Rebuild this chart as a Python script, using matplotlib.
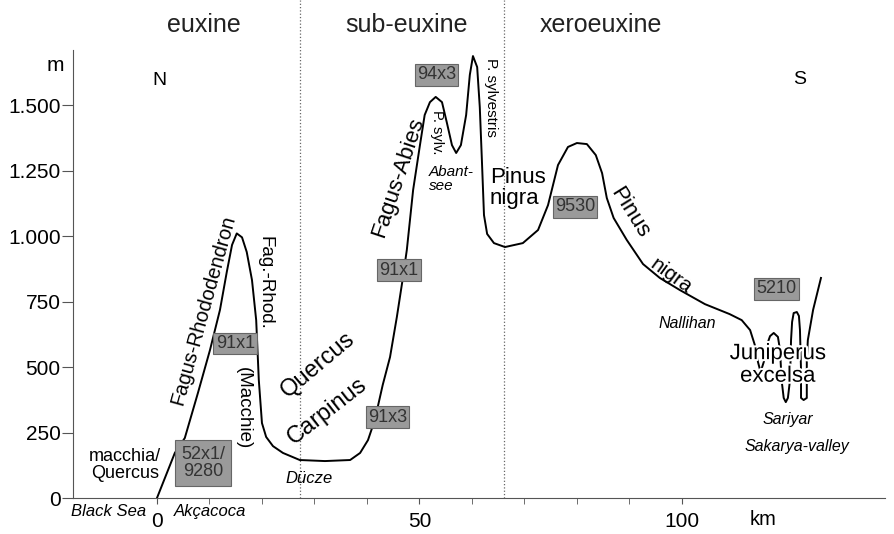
import matplotlib
matplotlib.use("Agg")
import matplotlib.pyplot as plt
import matplotlib.patheffects as pe
from matplotlib.ticker import FuncFormatter

plt.rcParams['font.family'] = ['Liberation Sans', 'DejaVu Sans']

# profile N -> S (km from coast, elevation in m)
dist_km = [0, 3.4, 5.3, 7.8, 10.1, 12.0, 13.3, 14.3, 15.2, 16.2, 17.1, 18.1, 18.9,
           19.4, 20.0, 20.8, 22.1, 24.0, 27.2, 32.0, 36.8, 38.7, 40.2, 41.5, 43.0,
           44.4, 45.7, 46.7, 47.6, 48.8, 50.1, 51.0, 52.0, 53.1, 54.3, 55.2, 56.2,
           57.0, 57.9, 58.9, 59.6, 60.2, 61.0, 61.5, 61.9, 62.3, 62.9, 64.2, 66.3,
           69.7, 72.6, 74.5, 76.4, 78.3, 80.0, 81.9, 83.6, 84.8, 85.7, 87.0, 89.5,
           92.6, 95.8, 99.6, 104.4, 109.1, 111.4, 113.0, 113.9, 114.5, 115.0, 115.6,
           116.2, 116.8, 117.5, 118.3, 118.7, 119.0, 119.4, 119.8, 120.2, 120.6,
           120.8, 121.0, 121.3, 121.9, 122.3, 122.5, 122.7, 122.7, 123.2, 123.8,
           123.8, 124.0, 125.0, 126.5]
elev_m = [0, 172, 229, 401, 565, 718, 863, 966, 1010, 995, 939, 832, 679,
          450, 286, 233, 198, 172, 145, 141, 145, 172, 221, 298, 431,
          538, 691, 821, 947, 1176, 1347, 1462, 1511, 1531, 1511, 1435, 1347,
          1317, 1347, 1462, 1615, 1687, 1645, 1492, 1290, 1080, 1008, 973, 958,
          973, 1023, 1118, 1271, 1340, 1355, 1351, 1309, 1240, 1145, 1069, 985,
          893, 840, 794, 740, 702, 679, 641, 584, 519, 481, 519,
          584, 618, 630, 615, 565, 450, 382, 366, 382, 450,
          603, 672, 706, 710, 695, 641, 489, 382, 374, 382,
          527, 603, 718, 840]

zone_names = ["euxine", "sub-euxine", "xeroeuxine"]
zone_centers = [9.0, 47.5, 84.5]
zone_bounds = [27.2, 66.2]

# vegetation code boxes: label, km, m
box_labels = ["52x1/\n9280", "91x1", "91x1", "91x3", "94x3", "9530", "5210"]
box_km = [8.8, 14.9, 46.1, 43.9, 53.3, 79.6, 118.0]
box_m = [134, 590, 870, 309, 1615, 1111, 798]

yticks = [0, 250, 500, 750, 1000, 1250, 1500]

fig = plt.figure(figsize=(8.94, 5.34), dpi=100)
ax = fig.add_axes([73 / 894, 36 / 534, 812 / 894, 498 / 534])
ax.set_xlim(-16, 138.7)
ax.set_ylim(0, 1901)

for s in ['top', 'right']:
    ax.spines[s].set_visible(False)
ax.spines['left'].set_bounds(0, 1710)
ax.spines['left'].set_color('#555555')
ax.spines['bottom'].set_color('#555555')

ax.set_xticks([0, 50, 100])
ax.set_xticks(range(0, 101, 10), minor=True)
ax.set_yticks(yticks)
ax.yaxis.set_major_formatter(FuncFormatter(lambda v, p: f"{int(v):,}".replace(",", ".")))
ax.tick_params(axis='x', which='both', length=4, color='#555555', labelsize=15, pad=6)
ax.tick_params(axis='y', length=8, color='#555555', labelsize=15, pad=1)

for xb in zone_bounds:
    ax.axvline(xb, ymin=0, ymax=1, color='#666666', linestyle=':', linewidth=0.9)

ax.plot(dist_km, elev_m, color='black', linewidth=1.4, zorder=3)

for lab, xk, ym in zip(box_labels, box_km, box_m):
    pad = 0.35 if '\n' in lab else 0.12
    ax.text(xk, ym, lab, fontsize=13, color='#333333', ha='center', va='center',
            linespacing=1.0, zorder=5,
            bbox=dict(boxstyle='square,pad=%s' % pad, fc='#9a9a9a', ec='#666666', lw=0.8))

for name, xc in zip(zone_names, zone_centers):
    ax.text(xc, 1806, name, fontsize=18, color='#222222', ha='center', va='center')

ax.text(-19.4, 1650, "m", fontsize=15, ha='center', va='center', clip_on=False)
ax.text(0.5, 1595, "N", fontsize=14, ha='center', va='center')
ax.text(122.5, 1598, "S", fontsize=14, ha='center', va='center')
ax.text(115.4, -83, "km", fontsize=14.5, ha='center', va='center', clip_on=False)
ax.text(-9.3, -53, "Black Sea", fontsize=12, style='italic', ha='center', va='center', clip_on=False)
ax.text(10.1, -53, "Akçacoca", fontsize=12, style='italic', ha='center', va='center', clip_on=False)

# vegetation labels along the profile
ax.text(-6.1, 126, "macchia/\nQuercus", fontsize=13, ha='center', va='center', linespacing=1.0)
ax.text(8.9, 718, "Fagus-Rhododendron", fontsize=14.5, rotation=74.5, ha='center', va='center')
ax.text(20.6, 820, "Fag.-Rhod.", fontsize=13.5, rotation=270, ha='center', va='center')
ax.text(16.4, 343, "(Macchie)", fontsize=13.5, rotation=270, ha='center', va='center')
ax.text(30.7, 508, "Quercus", fontsize=17, rotation=40, ha='center', va='center')
ax.text(32.4, 332, "Carpinus", fontsize=17, rotation=38, ha='center', va='center')
ax.text(29.0, 73, "Dücze", fontsize=12, style='italic', ha='center', va='center')
ax.text(45.9, 1225, "Fagus-Abies", fontsize=16, rotation=71.5, ha='center', va='center')
ax.text(53.4, 1395, "P. sylv.", fontsize=10.5, rotation=270, ha='center', va='center')
ax.text(51.8, 1218, "Abant-\nsee", fontsize=11, style='italic', ha='left', va='center', linespacing=1.05)
ax.text(63.6, 1530, "P. sylvestris", fontsize=11, rotation=270, ha='center', va='center')
ax.text(63.4, 1183, "Pinus\nnigra", fontsize=16, ha='left', va='center', linespacing=1.05)
ax.text(90.1, 1088, "Pinus", fontsize=16, rotation=-58, ha='center', va='center')
ax.text(97.9, 847, "nigra", fontsize=15, rotation=-36, ha='center', va='center')
ax.text(101.1, 668, "Nallihan", fontsize=11.5, style='italic', ha='center', va='center')
ax.text(118.3, 508, "Juniperus\nexcelsa", fontsize=16, ha='center', va='center', linespacing=1.1,
        zorder=4, path_effects=[pe.withStroke(linewidth=3, foreground='white')])
ax.text(120.2, 298, "Sariyar", fontsize=11.5, style='italic', ha='center', va='center')
ax.text(121.9, 198, "Sakarya-valley", fontsize=11.5, style='italic', ha='center', va='center')

plt.savefig('out.png', dpi=100)
plt.close()
